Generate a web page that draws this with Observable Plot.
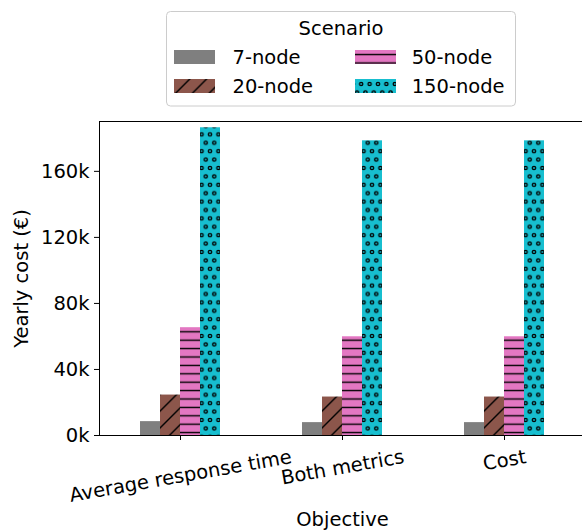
<!DOCTYPE html>
<html><head><meta charset="utf-8">
<script src="https://cdn.jsdelivr.net/npm/d3@7"></script>
<script src="https://cdn.jsdelivr.net/npm/@observablehq/plot@0.6"></script>
<style>
html,body{margin:0;padding:0;background:#fff;overflow:hidden;}
</style></head><body>
<div id="chart"></div>
<script>
const objectives = ["Average response time", "Both metrics", "Cost"];
const scenarios = ["7-node", "20-node", "50-node", "150-node"];
const cost7 = [8400, 7800, 7800];
const cost20 = [24500, 23300, 23300];
const cost50 = [65300, 59800, 59800];
const cost150 = [186400, 178500, 178500];
const yTicks = [0, 40000, 80000, 120000, 160000];
const yMax = 190200;
const legendTitle = "Scenario";

const series = [cost7, cost20, cost50, cost150];
const data = [];
objectives.forEach((o, i) => scenarios.forEach((s, j) => data.push({objective: o, scenario: s, value: series[j][i]})));

const fills = ["#7f7f7f", "url(#hatch20)", "url(#hatch50)", "url(#hatch150)"];
const font = "DejaVu Sans, sans-serif";
const fs = 19.5;

const chart = Plot.plot({
  width: 582, height: 531,
  marginLeft: 99, marginRight: -3, marginTop: 121, marginBottom: 96,
  style: {fontFamily: font, fontSize: fs + "px", color: "black", background: "white", overflow: "visible"},
  fx: {domain: objectives, padding: 0, label: "Objective", labelAnchor: "center", tickSize: 5, tickPadding: 5, tickRotate: -10, labelOffset: 90},
  x: {domain: scenarios, paddingInner: 0, paddingOuter: 2, axis: null},
  y: {domain: [0, yMax], ticks: yTicks, tickFormat: d => d / 1000 + "k", tickSize: 5, tickPadding: 5,
      label: "Yearly cost (€)", labelAnchor: "center", labelOffset: 85, line: true, labelArrow: "none"},
  color: {domain: scenarios, range: fills},
  marks: [
    Plot.barY(data, {fx: "objective", x: "scenario", y: "value", fill: "scenario", inset: 0}),
    Plot.ruleY([0, yMax], {stroke: "black", strokeWidth: 1.1})
  ]
});
document.getElementById("chart").appendChild(chart);

const svg = d3.select(chart);
// hatch patterns
const defs = svg.insert("defs", ":first-child");
const u = 8.4;
const p20 = defs.append("pattern").attr("id", "hatch20").attr("patternUnits", "userSpaceOnUse")
  .attr("width", 2 * u).attr("height", 2 * u);
p20.append("rect").attr("width", 2 * u).attr("height", 2 * u).attr("fill", "#8c564b");
p20.append("path").attr("d", `M0,${2*u}L${2*u},0M${-u},${u}L${u},${-u}M${u},${3*u}L${3*u},${u}`)
  .attr("stroke", "black").attr("stroke-width", 1.4);
const p50 = defs.append("pattern").attr("id", "hatch50").attr("patternUnits", "userSpaceOnUse")
  .attr("width", u).attr("height", u);
p50.append("rect").attr("width", u).attr("height", u).attr("fill", "#e377c2");
p50.append("path").attr("d", `M0,${u/2}L${u},${u/2}`).attr("stroke", "black").attr("stroke-width", 1.4);
const p150 = defs.append("pattern").attr("id", "hatch150").attr("patternUnits", "userSpaceOnUse")
  .attr("width", u).attr("height", 2 * u);
p150.append("rect").attr("width", u).attr("height", 2 * u).attr("fill", "#17becf");
[[0,0],[u,0],[0,2*u],[u,2*u],[u/2,u]].forEach(([cx, cy]) =>
  p150.append("circle").attr("cx", cx).attr("cy", cy).attr("r", 1.6)
    .attr("fill", "none").attr("stroke", "black").attr("stroke-width", 1.4));

// x tick labels: matplotlib-like rotated bbox alignment
const y0 = chart.scale("y").apply(0);
const sin = Math.sin(10 * Math.PI / 180), cos = Math.cos(10 * Math.PI / 180);
const rootCTM = chart.getScreenCTM();
svg.selectAll('[aria-label="fx-axis tick label"] text').each(function () {
  const t = d3.select(this);
  const tr = t.attr("transform") || "";
  const m = /translate\(([-\d.]+),?\s*([-\d.]+)?\)/.exec(tr);
  const x = m ? +m[1] : 0;
  const L = this.getComputedTextLength();
  const H = 1.164 * fs;
  const cy = y0 + 5 + 4.9 + (L * sin + H * cos) / 2;
  const pc = this.parentNode.getScreenCTM();
  const offY = pc.f - rootCTM.f;
  t.attr("transform", `translate(${x},${cy - offY}) rotate(-10)`).attr("y", null).attr("x", null)
    .attr("dy", "0.35em").attr("text-anchor", "middle");
});

// legend
const lg = svg.append("g").attr("font-family", font).attr("font-size", fs).attr("text-anchor", "start");
lg.append("rect").attr("x", 166.5).attr("y", 11.5).attr("width", 349).attr("height", 94.5)
  .attr("rx", 4).attr("fill", "white").attr("fill-opacity", 0.8).attr("stroke", "#cccccc");
lg.append("text").attr("x", 341).attr("y", 28).attr("dy", "0.35em").attr("text-anchor", "middle").text(legendTitle);
scenarios.forEach((s, i) => {
  const col = Math.floor(i / 2), row = i % 2;
  const sx = col ? 355 : 174, sy = row ? 79 : 50;
  lg.append("rect").attr("x", sx).attr("y", sy).attr("width", 41).attr("height", 14).attr("fill", fills[i]);
  lg.append("text").attr("x", col ? 411.7 : 232.5).attr("y", sy + 7).attr("dy", "0.35em")
    .attr("text-anchor", "start").text(s);
});
</script>
</body></html>
